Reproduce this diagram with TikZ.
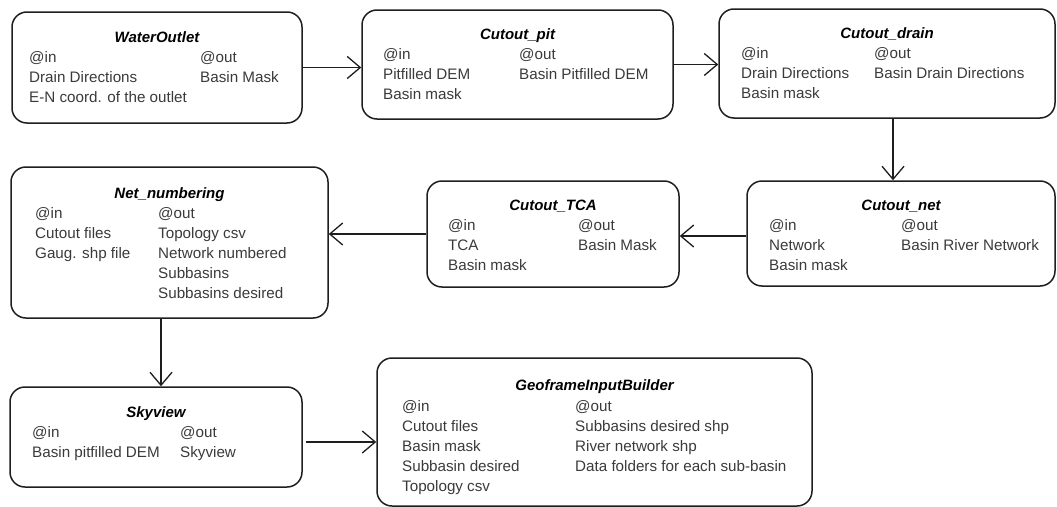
\documentclass[tikz,border=0pt]{standalone}
\usepackage{fontspec}
\setmainfont{Liberation Sans}
\usetikzlibrary{arrows.meta,fit}
\definecolor{ink}{HTML}{1E1E1E}
\definecolor{txtc}{HTML}{3A3A3A}
\newcommand\mycol[4]{\foreach \t [count=\k] in {#4} \node[lbl] (#1\k) at (#2,{#3+20*(\k-1)}) {\t};}
\begin{document}
\begin{tikzpicture}[x=1pt,y=-1pt,
  box/.style={draw=ink, line width=1.5pt, rounded corners=15pt, inner sep=0pt},
  ttl/.style={font=\fontsize{15}{18}\selectfont\bfseries\itshape, text=black, anchor=base, inner sep=0pt},
  lbl/.style={font=\fontsize{15.2}{18}\selectfont, text=txtc, anchor=base west, inner sep=0pt},
  arr/.style={draw=ink, line width=1.3pt, -{Straight Barb[length=13pt,width=22pt,line width=1.3pt]}}]
\useasboundingbox (0,0) rectangle (1057,506);

% boxes
\node[box, fit={(12,12)(302,123)}] (wo) {};
\node[box, fit={(362,10)(673,119)}] (pit) {};
\node[box, fit={(719,9)(1055,118)}] (drain) {};
\node[box, fit={(11,167)(328,318)}] (num) {};
\node[box, fit={(427,181)(679,287)}] (tca) {};
\node[box, fit={(747,181)(1055,286)}] (net) {};
\node[box, fit={(10,387)(302,487)}] (sky) {};
\node[box, fit={(377,358)(812,506)}] (geo) {};

% WaterOutlet
\node[ttl] (woT) at (157,42.5) {WaterOutlet};
\mycol{woI}{29}{62.5}{@in, Drain Directions, E-N coord. of the outlet}
\mycol{woO}{200}{62.5}{@out, Basin Mask}

% Cutout_pit
\node[ttl] (pitT) at (517.5,39.5) {Cutout\_pit};
\mycol{pitI}{383}{59.5}{@in, Pitfilled DEM, Basin mask}
\mycol{pitO}{519}{59.5}{@out, Basin Pitfilled DEM}

% Cutout_drain
\node[ttl] (drT) at (887,38.5) {Cutout\_drain};
\mycol{drI}{741}{58.5}{@in, Drain Directions, Basin mask}
\mycol{drO}{874}{58.5}{@out, Basin Drain Directions}

% Net_numbering
\node[ttl] (numT) at (169.5,198.5) {Net\_numbering};
\mycol{numI}{35}{218.5}{@in, Cutout files, Gaug. shp file}
\mycol{numO}{158}{218.5}{@out, Topology csv, Network numbered, Subbasins, Subbasins desired}

% Cutout_TCA
\node[ttl] (tcaT) at (553,210.5) {Cutout\_TCA};
\mycol{tcaI}{448}{230.5}{@in, TCA, Basin mask}
\mycol{tcaO}{578}{230.5}{@out, Basin Mask}

% Cutout_net
\node[ttl] (netT) at (901,210.5) {Cutout\_net};
\mycol{netI}{769}{230.5}{@in, Network, Basin mask}
\mycol{netO}{901}{230.5}{@out, Basin River Network}

% Skyview
\node[ttl] (skyT) at (156,417.5) {Skyview};
\mycol{skyI}{32}{437.5}{@in, Basin pitfilled DEM}
\mycol{skyO}{180}{437.5}{@out, Skyview}

% GeoframeInputBuilder
\node[ttl] (geoT) at (594.5,390.5) {GeoframeInputBuilder};
\mycol{geoI}{402}{411.5}{@in, Cutout files, Basin mask, Subbasin desired, Topology csv}
\mycol{geoO}{575}{411.5}{@out, Subbasins desired shp, River network shp, Data folders for each sub-basin}

% connectors
\coordinate (vx1) at (893,0);
\coordinate (hy1) at (0,236);
\coordinate (vx2) at (161,0);
\coordinate (hy2) at (0,442);
\draw[arr] (wo.east) -- (wo.east -| pit.west);
\draw[arr] (pit.east) -- (pit.east -| drain.west);
\draw[arr] (drain.south -| vx1) -- (net.north -| vx1);
\draw[arr] (net.west |- hy1) -- (tca.east |- hy1);
\draw[arr] (tca.west) -- (tca.west -| num.east);
\draw[arr] (num.south -| vx2) -- (sky.north -| vx2);
\draw[arr, shorten <=3pt] (sky.east |- hy2) -- (geo.west |- hy2);
\end{tikzpicture}
\end{document}
